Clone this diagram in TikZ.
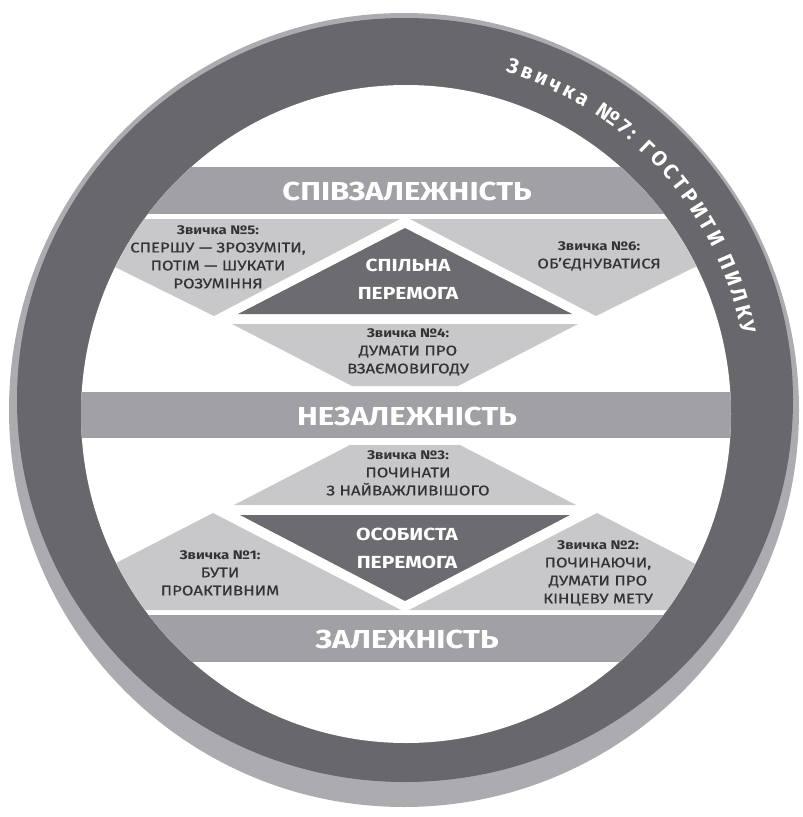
\documentclass[tikz,border=0pt]{standalone}
\usepackage{fontspec}
\setmainfont[FakeStretch=1.2]{Fira Sans}
\newfontfamily\habitfont[FakeStretch=1.2,FakeBold=0.5]{Fira Sans}
\newfontfamily\ringfont{Fira Sans}
\usetikzlibrary{decorations.text}

\definecolor{rimgray}{RGB}{172,172,176}
\definecolor{ringgray}{RGB}{104,104,108}
\definecolor{bandgray}{RGB}{160,160,165}
\definecolor{lightgray}{RGB}{200,200,203}
\definecolor{wingray}{RGB}{108,108,112}
\definecolor{habitink}{RGB}{52,50,54}

\newcommand{\habitno}[1]{{\rmfamily\bfseries\fontsize{12.5}{18}\selectfont Звичка №#1:}}

\begin{document}
\begin{tikzpicture}[x=1pt, y=1pt,
    bandtext/.style={text=white, font=\fontsize{26}{26}\selectfont\bfseries},
    wintext/.style={text=white, font=\fontsize{17.5}{28}\selectfont\bfseries, align=center},
    habittext/.style={text=habitink, font=\habitfont\fontsize{14}{18}\selectfont, align=center}]
  \useasboundingbox (0,0) rectangle (803,-817);

  % Outer ring
  \fill[rimgray] (404,-410) ellipse [x radius=395, y radius=397];
  \fill[ringgray] (405,-400) ellipse [x radius=388, y radius=382];
  \fill[white] (406,-414) ellipse [x radius=325, y radius=329];

  % Bands and parts inside the ring
  \begin{scope}
    \clip (406,-414) ellipse [x radius=325, y radius=329];
    \fill[bandgray] (0,-167) rectangle (803,-214);
    \fill[bandgray] (0,-392) rectangle (803,-438);
    \fill[bandgray] (0,-615) rectangle (803,-662);

    % Upper half
    \fill[lightgray] (18,-219) -- (400,-219) -- (214,-316) -- cycle;
    \fill[lightgray] (410,-219) -- (792,-219) -- (596,-316) -- cycle;
    \fill[wingray] (405,-228) -- (572,-314) -- (238,-314) -- cycle;
    \fill[lightgray] (232,-324) -- (578,-324) -- (458,-386) -- (352,-386) -- cycle;

    % Lower half
    \fill[lightgray] (350,-445) -- (460,-445) -- (576,-505) -- (234,-505) -- cycle;
    \fill[wingray] (240,-515) -- (570,-515) -- (405,-601) -- cycle;
    \fill[lightgray] (25,-610) -- (401,-610) -- (213,-513) -- cycle;
    \fill[lightgray] (409,-610) -- (785,-610) -- (597,-513) -- cycle;
  \end{scope}

  % Levels
  \node[bandtext] (interdep) at (407,-191) {СПІВЗАЛЕЖНІСТЬ};
  \node[bandtext] (indep) at (407,-416) {НЕЗАЛЕЖНІСТЬ};
  \node[bandtext] (dep) at (407,-639) {ЗАЛЕЖНІСТЬ};

  % Victories
  \node[wintext] (publicwin) at (408,-279) {СПІЛЬНА\\ПЕРЕМОГА};
  \node[wintext] (privatewin) at (407,-548) {ОСОБИСТА\\ПЕРЕМОГА};

  % Habits
  \node[habittext] (habit1) at (220,-573) {\habitno{1}\\БУТИ\\ПРОАКТИВНИМ};
  \node[habittext] (habit2) at (598,-573) {\habitno{2}\\ПОЧИНАЮЧИ,\\ДУМАТИ ПРО\\КІНЦЕВУ МЕТУ};
  \node[habittext] (habit3) at (408,-473) {\habitno{3}\\ПОЧИНАТИ\\З НАЙВАЖЛИВІШОГО};
  \node[habittext] (habit4) at (408,-352) {\habitno{4}\\ДУМАТИ ПРО\\ВЗАЄМОВИГОДУ};
  \node[habittext] (habit5) at (218,-257) {\habitno{5}\\СПЕРШУ — ЗРОЗУМІТИ,\\ПОТІМ — ШУКАТИ\\РОЗУМІННЯ};
  \node[habittext] (habit6) at (599,-256) {\habitno{6}\\ОБ’ЄДНУВАТИСЯ};

  % Habit 7 along the ring
  \path[decorate, decoration={text along path, text align=fit to path,
      text color=white, text format delimiters={|}{|},
      text={|\ringfont\bfseries\fontsize{21}{21}\selectfont|Звичка №7:  ГОСТРИТИ ПИЛКУ}}]
    (405,-400) ++(73:343) arc[start angle=73, end angle=11, radius=343];
\end{tikzpicture}
\end{document}
